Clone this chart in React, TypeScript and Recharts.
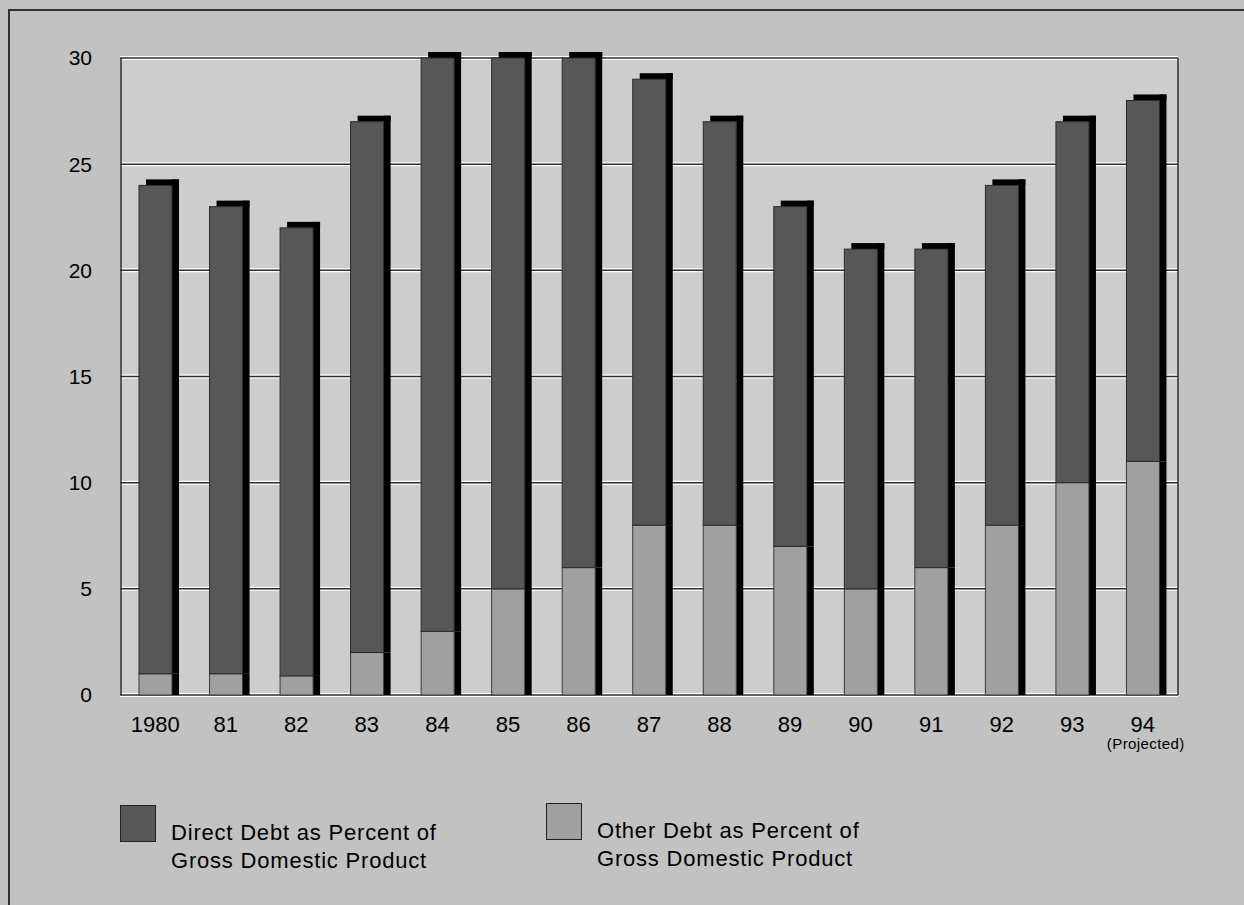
import { BarChart, Bar, XAxis, YAxis, CartesianGrid } from 'recharts'

const years = ['1980', '81', '82', '83', '84', '85', '86', '87', '88', '89', '90', '91', '92', '93', '94']
const otherDebt = [1, 1, 0.9, 2, 3, 5, 6, 8, 8, 7, 5, 6, 8, 10, 11]
const directDebt = [23, 22, 21.1, 25, 27, 25, 24, 21, 19, 16, 16, 15, 16, 17, 17]
const yTicks = [0, 5, 10, 15, 20, 25, 30]

const data = years.map((year, i) => ({ year, other: otherDebt[i], direct: directDebt[i] }))

const FONT = '"Liberation Sans", Arial, Helvetica, sans-serif'
const SHADOW = 7

// lower segment: fill + right-hand shadow strip
function OtherShape(props: any) {
  const { x, y, width, height } = props
  if (!height) return null
  return (
    <g>
      <rect x={x + width} y={y} width={SHADOW} height={height} fill="#000" />
      <rect x={x} y={y} width={width} height={height} fill="#a0a0a0" stroke="#3a3a3a" strokeWidth={1} />
    </g>
  )
}

// top segment: fill + L-shaped shadow (top and right)
function DirectShape(props: any) {
  const { x, y, width, height } = props
  if (!height) return null
  return (
    <g>
      <rect x={x + SHADOW} y={y - 6} width={width} height={6} fill="#000" />
      <rect x={x + width} y={y - 6} width={SHADOW} height={height + 6} fill="#000" />
      <rect x={x} y={y} width={width} height={height} fill="#575757" stroke="#2a2a2a" strokeWidth={1} />
    </g>
  )
}

function YearTick(props: any) {
  const { x, y, payload, index } = props
  return (
    <g>
      <text x={x} y={y + 37} textAnchor="middle" fontSize={22} fontFamily={FONT} fill="#000">
        {payload.value}
      </text>
      {index === years.length - 1 && (
        <text x={x + 3} y={y + 54} textAnchor="middle" fontSize={15} fontFamily={FONT} fill="#000" letterSpacing={0.4}>
          (Projected)
        </text>
      )}
    </g>
  )
}

function LegendItem({ left, top, color, lines }: { left: number; top: number; color: string; lines: string[] }) {
  return (
    <div style={{ position: 'absolute', left, top }}>
      <div style={{ position: 'absolute', left: 0, top: 0, width: 34, height: 35, background: color, border: '1px solid #222' }} />
      <div style={{ position: 'absolute', left: 51, top: 14, fontFamily: FONT, fontSize: 22, lineHeight: '28px', letterSpacing: 0.8, color: '#000', whiteSpace: 'nowrap' }}>
        {lines.map((l) => (
          <div key={l}>{l}</div>
        ))}
      </div>
    </div>
  )
}

export default function App() {
  return (
    <div style={{ position: 'relative', width: 1244, height: 905, background: '#c2c2c2', overflow: 'hidden' }}>
      <style>{'body{margin:0}'}</style>
      <div style={{ position: 'absolute', left: 8, top: 9, right: 0, bottom: 0, borderLeft: '2px solid #333', borderTop: '2px solid #333' }} />
      <div style={{ position: 'absolute', left: 0, top: 0 }}>
        <BarChart width={1244} height={905} data={data} margin={{ top: 58, right: 66, left: 60, bottom: 150 }} barSize={33}>
          <CartesianGrid horizontal vertical={false} fill="#cdcdcd" stroke="#ffffff" strokeWidth={4} />
          <CartesianGrid horizontal vertical verticalPoints={[121, 1178]} stroke="#2e2e2e" strokeWidth={1.5} />
          <XAxis dataKey="year" axisLine={false} tickLine={false} tickSize={0} tickMargin={0} height={60} interval={0} tick={<YearTick />} />
          <YAxis
            domain={[0, 30]}
            ticks={yTicks}
            width={60}
            axisLine={false}
            tickLine={false}
            tickSize={0}
            tickMargin={28}
            tick={{ fontSize: 21, fontFamily: FONT, fill: '#000' }}
          />
          <Bar dataKey="other" stackId="a" shape={<OtherShape />} isAnimationActive={false} />
          <Bar dataKey="direct" stackId="a" shape={<DirectShape />} isAnimationActive={false} />
        </BarChart>
      </div>
      <LegendItem left={120} top={805} color="#575757" lines={['Direct Debt as Percent of', 'Gross Domestic Product']} />
      <LegendItem left={546} top={803} color="#a0a0a0" lines={['Other Debt as Percent of', 'Gross Domestic Product']} />
    </div>
  )
}
